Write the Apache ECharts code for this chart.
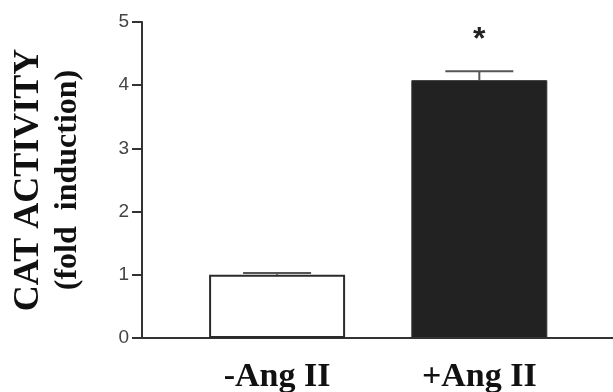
<!DOCTYPE html>
<html>
<head>
<meta charset="utf-8">
<script src="https://cdn.jsdelivr.net/npm/echarts@6/dist/echarts.min.js"></script>
<style>
  html, body { margin: 0; padding: 0; background: #fff; }
  #main { width: 613px; height: 392px; }
</style>
</head>
<body>
<div id="main"></div>
<script>
// groups and measured values
var categories = ['-Ang II', '+Ang II'];
var values = [1.0, 4.08];
var errors = [0.03, 0.14];
var marks = ['', '*'];
var yTicks = [0, 1, 2, 3, 4, 5];

var barData = categories.map(function (c, i) {
  return {
    value: [i + 1, values[i]],
    itemStyle: i === 0
      ? { color: '#fff', borderColor: '#2b2b2b', borderWidth: 2 }
      : { color: '#222', borderColor: '#333', borderWidth: 1 },
    label: { show: marks[i] !== '', formatter: marks[i] }
  };
});

var errData = categories.map(function (c, i) {
  return [i + 1, values[i], values[i] + errors[i]];
});

var option = {
  animation: false,
  grid: { left: 142, right: 0, top: 22, bottom: 54, outerBoundsMode: 'none' },
  xAxis: {
    type: 'value',
    min: 0.332,
    max: 2.661,
    splitLine: { show: false },
    axisLine: { show: true, lineStyle: { color: '#333', width: 2 } },
    axisTick: { show: false },
    axisLabel: {
      customValues: [1, 2],
      formatter: function (v) { return categories[Math.round(v) - 1] || ''; },
      fontFamily: 'Liberation Serif, Times New Roman, serif',
      fontWeight: 'bold',
      fontSize: 34,
      color: '#111',
      margin: 22
    }
  },
  yAxis: {
    type: 'value',
    min: yTicks[0],
    max: yTicks[yTicks.length - 1],
    interval: 1,
    splitLine: { show: false },
    axisLine: { show: true, lineStyle: { color: '#333', width: 2 } },
    axisTick: { show: true, length: 10, lineStyle: { color: '#333', width: 2 } },
    axisLabel: {
      fontFamily: 'Liberation Sans, Arial, sans-serif',
      fontSize: 19,
      color: '#444',
      margin: 13
    },
    name: '{a|CAT ACTIVITY}\n{b|(fold  induction)}',
    nameLocation: 'middle',
    nameRotate: 90,
    nameGap: 56,
    nameTextStyle: {
      rich: {
        a: {
          fontFamily: 'Liberation Serif, Times New Roman, serif',
          fontWeight: 'bold', fontSize: 36, color: '#111', lineHeight: 42
        },
        b: {
          fontFamily: 'Liberation Serif, Times New Roman, serif',
          fontWeight: 'bold', fontSize: 32, color: '#111', lineHeight: 36
        }
      }
    }
  },
  series: [
    {
      type: 'bar',
      barWidth: 136,
      data: barData,
      label: {
        position: 'top',
        distance: 24,
        fontFamily: 'Liberation Sans, Arial, sans-serif',
        fontWeight: 'bold',
        fontSize: 32,
        color: '#222'
      }
    },
    {
      type: 'custom',
      z: 3,
      data: errData,
      renderItem: function (params, api) {
        var x = api.value(0);
        var top = api.coord([x, api.value(2)]);
        var base = api.coord([x, api.value(1)]);
        var half = 34;
        var st = { stroke: '#555', lineWidth: 2 };
        return {
          type: 'group',
          children: [
            { type: 'line', shape: { x1: top[0], y1: base[1], x2: top[0], y2: top[1] }, style: st },
            { type: 'line', shape: { x1: top[0] - half, y1: top[1], x2: top[0] + half, y2: top[1] }, style: st }
          ]
        };
      }
    }
  ]
};

echarts.init(document.getElementById('main')).setOption(option);
</script>
</body>
</html>
